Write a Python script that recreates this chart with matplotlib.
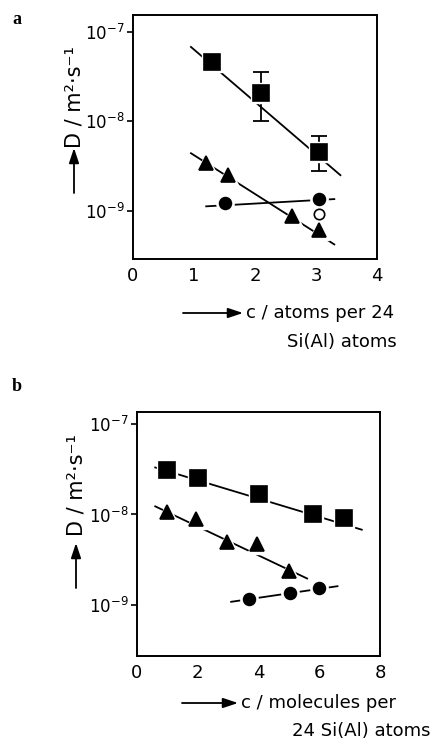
import matplotlib
matplotlib.use("Agg")
import matplotlib.pyplot as plt
from matplotlib.patches import FancyArrowPatch
import numpy as np

W, H = 433, 743

# ---------------- Panel a data ----------------
a_sq_x = [1.3, 2.1, 3.05]
a_sq_y = [4.6e-8, 2.1e-8, 4.5e-9]
a_sq_err_lo = [4.6e-8, 1.02e-8, 2.75e-9]
a_sq_err_hi = [4.6e-8, 3.6e-8, 6.8e-9]
a_sq_fit_x = [0.95, 3.4]
a_sq_fit_y = [6.8e-8, 2.5e-9]

a_tri_x = [1.2, 1.55, 2.6, 3.05]
a_tri_y = [3.4e-9, 2.5e-9, 8.7e-10, 6.1e-10]
a_tri_fit_x = [0.95, 3.3]
a_tri_fit_y = [4.4e-9, 4.2e-10]

a_cir_x = [1.5, 3.05]
a_cir_y = [1.21e-9, 1.34e-9]
a_cir_fit_x = [1.2, 3.3]
a_cir_fit_y = [1.12e-9, 1.35e-9]
a_open_x = [3.05]
a_open_y = [9.3e-10]

# ---------------- Panel b data ----------------
b_sq_x = [1.0, 2.0, 4.0, 5.8, 6.8]
b_sq_y = [3.1e-8, 2.5e-8, 1.67e-8, 1.0e-8, 9.2e-9]
b_sq_fit_x = [0.6, 7.4]
b_sq_fit_y = [3.3e-8, 6.8e-9]

b_tri_x = [1.0, 1.95, 2.95, 3.95, 5.0]
b_tri_y = [1.07e-8, 9.0e-9, 5.0e-9, 4.7e-9, 2.4e-9]
b_tri_fit_x = [0.6, 5.6]
b_tri_fit_y = [1.23e-8, 1.97e-9]

b_cir_x = [3.7, 5.05, 6.0]
b_cir_y = [1.18e-9, 1.37e-9, 1.56e-9]
b_cir_fit_x = [3.1, 6.6]
b_cir_fit_y = [1.09e-9, 1.62e-9]

a_xticks = [0, 1, 2, 3, 4]
b_xticks = [0, 2, 4, 6, 8]
yticks = [1e-9, 1e-8, 1e-7]
ytick_labels = [r"$10^{-9}$", r"$10^{-8}$", r"$10^{-7}$"]

fig = plt.figure(figsize=(W / 100, H / 100), dpi=100)
plt.rcParams['font.family'] = ['DejaVu Sans']


def fx(px):
    return px / W


def fy(py):
    return 1 - py / H


def axes_px(l, t, r, b):
    return fig.add_axes([fx(l), fy(b), (r - l) / W, (b - t) / H])


def series(ax, x, y, marker, ms, fill='k'):
    ax.plot(x, y, ls='none', marker=marker, ms=ms + 4, mfc='white', mec='white', zorder=3)
    ax.plot(x, y, ls='none', marker=marker, ms=ms, mfc=fill, mec='k', mew=1.2, zorder=4)


def fit(ax, x, y):
    ax.plot(x, y, color='k', lw=1.3, zorder=2)


def style(ax, xticks, xlim, ylim):
    ax.set_yscale('log')
    ax.set_xlim(*xlim)
    ax.set_ylim(*ylim)
    ax.set_xticks(xticks)
    ax.set_xticklabels([str(t) for t in xticks], fontsize=13)
    ax.set_yticks(yticks)
    ax.set_yticklabels(ytick_labels, fontsize=12)
    ax.minorticks_off()
    ax.tick_params(direction='out', length=4, width=1.2, pad=2)
    ax.tick_params(axis='x', length=0, pad=6)
    for s in ax.spines.values():
        s.set_linewidth(1.4)


# ---------- Panel a ----------
axa = axes_px(133, 15, 377, 259)
style(axa, a_xticks, (0, 4), (10 ** -9.54, 10 ** -6.81))
fit(axa, a_sq_fit_x, a_sq_fit_y)
fit(axa, a_tri_fit_x, a_tri_fit_y)
fit(axa, a_cir_fit_x, a_cir_fit_y)
yerr = [np.array(a_sq_y) - np.array(a_sq_err_lo), np.array(a_sq_err_hi) - np.array(a_sq_y)]
axa.errorbar(a_sq_x, a_sq_y, yerr=yerr, fmt='none', ecolor='k', elinewidth=1.3,
             capsize=6, capthick=1.3, zorder=2.5)
series(axa, a_sq_x, a_sq_y, 's', 11)
series(axa, a_tri_x, a_tri_y, '^', 10)
series(axa, a_cir_x, a_cir_y, 'o', 8.5)
series(axa, a_open_x, a_open_y, 'o', 7.5, fill='white')

# ---------- Panel b ----------
axb = axes_px(137, 412, 380, 656)
style(axb, b_xticks, (0, 8), (10 ** -9.56, 10 ** -6.87))
fit(axb, b_sq_fit_x, b_sq_fit_y)
fit(axb, b_tri_fit_x, b_tri_fit_y)
fit(axb, b_cir_fit_x, b_cir_fit_y)
series(axb, b_sq_x, b_sq_y, 's', 11)
series(axb, b_tri_x, b_tri_y, '^', 10)
series(axb, b_cir_x, b_cir_y, 'o', 8.5)

# ---------- Panel letters ----------
fig.text(fx(12), fy(20), 'a', fontsize=13, fontweight='bold', family='Liberation Serif',
         ha='left', va='center')
fig.text(fx(12), fy(386), 'b', fontsize=13, fontweight='bold', family='Liberation Serif',
         ha='left', va='center')


def arrow(p0, p1):
    fig.add_artist(FancyArrowPatch((fx(p0[0]), fy(p0[1])), (fx(p1[0]), fy(p1[1])),
                                   transform=fig.transFigure,
                                   arrowstyle='-|>,head_length=0.9,head_width=0.3',
                                   mutation_scale=10, color='k', lw=1.3,
                                   shrinkA=0, shrinkB=0))


# ---------- Y labels ----------
for xa, y0, y1, yc in [(74, 193, 148, 97), (76, 588, 543, 485)]:
    arrow((xa, y0), (xa, y1))
    fig.text(fx(xa), fy(yc), 'D / m²·s⁻¹', rotation=90, fontsize=15,
             ha='center', va='center')

# ---------- X labels ----------
for y_line1, y_line2, ax0, ax1, line1, line2, r2 in [
        (313, 342, 183, 243, 'c / atoms per 24', 'Si(Al) atoms', 397),
        (703, 731, 182, 238, 'c / molecules per', '24 Si(Al) atoms', 430)]:
    arrow((ax0, y_line1), (ax1, y_line1))
    fig.text(fx(ax1 + 3), fy(y_line1), line1, fontsize=13, ha='left', va='center')
    fig.text(fx(r2), fy(y_line2), line2, fontsize=13, ha='right', va='center')

fig.savefig('out.png', dpi=100)
